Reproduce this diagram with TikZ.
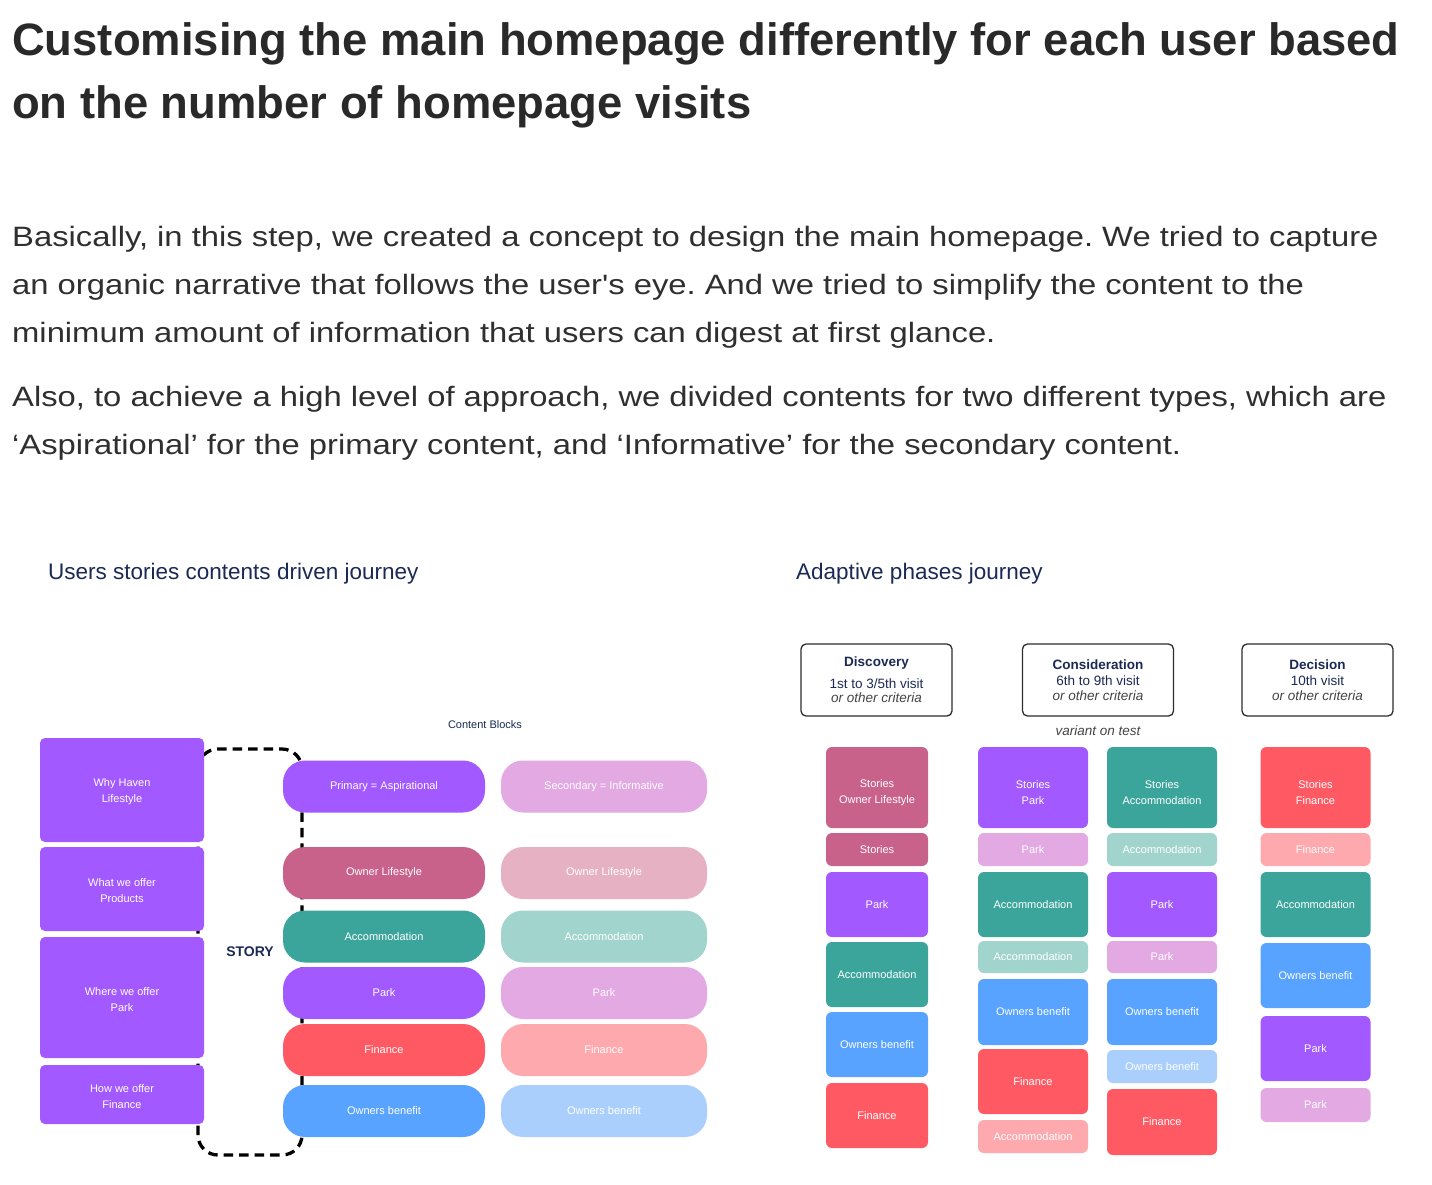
\documentclass[tikz,border=0pt]{standalone}
\usepackage{fontspec}
\setmainfont{Liberation Sans}
\newfontfamily\bodyfont[FakeStretch=1.17]{Liberation Sans}
\usetikzlibrary{positioning}
\frenchspacing

\definecolor{titlegrey}{HTML}{292929}
\definecolor{bodygrey}{HTML}{2F2F2F}
\definecolor{navy}{HTML}{1B2A55}
\definecolor{hdrline}{HTML}{2E2E2E}
\definecolor{critgrey}{HTML}{444444}
\definecolor{cPurple}{HTML}{A259FF}
\definecolor{cRose}{HTML}{C9628A}
\definecolor{cTeal}{HTML}{3BA59C}
\definecolor{cRed}{HTML}{FF5A64}
\definecolor{cBlue}{HTML}{58A3FF}
\definecolor{lPurple}{HTML}{E2A9E3}
\definecolor{lRose}{HTML}{E7B1C4}
\definecolor{lTeal}{HTML}{A2D4CE}
\definecolor{lRed}{HTML}{FDA9AD}
\definecolor{lBlue}{HTML}{ABCFFC}

\newcommand\blockfont{\fontsize{11}{16}\selectfont}

\tikzset{
  title/.style={anchor=base west, inner sep=0pt, text=titlegrey, font=\fontsize{45.4}{54}\selectfont\bfseries},
  bodytext/.style={anchor=base west, inner sep=0pt, text=bodygrey, font=\bodyfont\fontsize{28}{48}\selectfont},
  section/.style={anchor=base west, inner sep=0pt, text=navy, font=\fontsize{22.5}{26}\selectfont},
  leftbox/.style={fill=cPurple, rounded corners=5, minimum width=164, inner sep=0pt, align=center, text=white, font=\blockfont, text height=28pt},
  pill/.style={fill=#1, rounded corners=22, minimum width=202, minimum height=52, inner sep=0pt, text=white, font=\blockfont},
  blk/.style={fill=#1, rounded corners=6, minimum width=110, inner sep=0pt, align=center, text=white, font=\blockfont},
  twoline/.style={text height=34pt},
  hdr/.style={draw=hdrline, line width=1.3pt, rounded corners=5, fill=white, minimum width=151, minimum height=72, inner sep=0pt, align=center, text=navy, font=\fontsize{13.5}{14.5}\selectfont},
  storyline/.style={draw=black, line width=3.3pt, dash pattern=on 9.5pt off 6pt, rounded corners=20}
}

\begin{document}
\begin{tikzpicture}[x=1pt, y=-1pt]

            \fill[white] (0,0) rectangle (1432,1184);
            \useasboundingbox (0,0) rectangle (1432,1184);

            % Vẽ tiêu đề
            \node[title] (title1) at (12,55) {Customising the main homepage differently for each user based};
            \node[title] (title2) at (12,118) {on the number of homepage visits};

            % Vẽ đoạn văn
            \node[bodytext] (line1) at (12,246) {Basically, in this step, we created a concept to design the main homepage. We tried to capture};
            \node[bodytext] (line2) at (12,294) {an organic narrative that follows the user's eye. And we tried to simplify the content to the};
            \node[bodytext] (line3) at (12,342) {minimum amount of information that users can digest at first glance.};
            \node[bodytext] (line4) at (12,406) {Also, to achieve a high level of approach, we divided contents for two different types, which are};
            \node[bodytext] (line5) at (12,454) {‘Aspirational’ for the primary content, and ‘Informative’ for the secondary content.};

            % Tiêu đề hai sơ đồ
            \node[section] (usertitle) at (48,579) {Users stories contents driven journey};
            \node[section] (phasetitle) at (796,579) {Adaptive phases journey};

            % Sơ đồ trái: vòng STORY
            \draw[storyline] (198,749) rectangle (302,1155);
            \node[text=navy, font=\fontsize{14}{16}\selectfont\bfseries] (story) at (250,952) {STORY};

            % Các khối bên trái
            \node[leftbox, minimum height=104] (why) at (122,790) {Why Haven\\Lifestyle};
            \node[leftbox, minimum height=84] (what) at (122,889) {What we offer\\Products};
            \node[leftbox, minimum height=121] (where) at (122,997.5) {Where we offer\\Park};
            \node[leftbox, minimum height=59] (how) at (122,1094.5) {How we offer\\Finance};

            % Content Blocks
            \node[text=navy, font=\fontsize{11}{13}\selectfont] (content) at (485,725) {Content Blocks};
            \node[pill=cPurple] (prim) at (384,786.5) {Primary = Aspirational};
            \node[pill=cRose] (ownerA) at (384,873) {Owner Lifestyle};
            \node[pill=cTeal] (accA) at (384,936.5) {Accommodation};
            \node[pill=cPurple] (parkA) at (384,993) {Park};
            \node[pill=cRed] (finA) at (384,1050) {Finance};
            \node[pill=cBlue] (benA) at (384,1111) {Owners benefit};

            \node[pill=lPurple, minimum width=206] (second) at (604,786.5) {Secondary = Informative};
            \node[pill=lRose, minimum width=206] (ownerB) at (604,873) {Owner Lifestyle};
            \node[pill=lTeal, minimum width=206] (accB) at (604,936.5) {Accommodation};
            \node[pill=lPurple, minimum width=206] (parkB) at (604,993) {Park};
            \node[pill=lRed, minimum width=206] (finB) at (604,1050) {Finance};
            \node[pill=lBlue, minimum width=206] (benB) at (604,1111) {Owners benefit};

            % Sơ đồ phải: các giai đoạn
            \node[hdr] (disc) at (876.5,680) {{\bfseries Discovery}\\[7pt]1st to 3/5th visit\\{\color{critgrey}\itshape or other criteria}};
            \node[hdr] (cons) at (1098,680) {{\bfseries Consideration}\\[2pt]6th to 9th visit\\{\color{critgrey}\itshape or other criteria}};
            \node[hdr] (deci) at (1317.5,680) {{\bfseries Decision}\\[2pt]10th visit\\{\color{critgrey}\itshape or other criteria}};
            \node[below=9pt of cons, inner sep=0pt, text=critgrey, font=\fontsize{13.5}{15}\selectfont\itshape] (variant) {variant on test};

            % Cột Discovery
            \node[blk=cRose, twoline, minimum width=102, minimum height=81] (a1) at (877,787.5) {Stories\\Owner Lifestyle};
            \node[blk=cRose, minimum width=102, minimum height=33] (a2) at (877,849.5) {Stories};
            \node[blk=cPurple, minimum width=102, minimum height=65] (a3) at (877,904.5) {Park};
            \node[blk=cTeal, minimum width=102, minimum height=65] (a4) at (877,974.5) {Accommodation};
            \node[blk=cBlue, minimum width=102, minimum height=65] (a5) at (877,1044.5) {Owners benefit};
            \node[blk=cRed, minimum width=102, minimum height=65] (a6) at (877,1115.5) {Finance};

            % Cột Consideration
            \node[blk=cPurple, twoline, minimum height=81] (b1) at (1033,787.5) {Stories\\Park};
            \node[blk=lPurple, minimum height=33] (b2) at (1033,849.5) {Park};
            \node[blk=cTeal, minimum height=65] (b3) at (1033,904.5) {Accommodation};
            \node[blk=lTeal, minimum height=32] (b4) at (1033,957) {Accommodation};
            \node[blk=cBlue, minimum height=66] (b5) at (1033,1012) {Owners benefit};
            \node[blk=cRed, minimum height=65] (b6) at (1033,1081.5) {Finance};
            \node[blk=lRed, minimum height=33] (b7) at (1033,1136.5) {Accommodation};

            \node[blk=cTeal, twoline, minimum height=81] (c1) at (1162,787.5) {Stories\\Accommodation};
            \node[blk=lTeal, minimum height=33] (c2) at (1162,849.5) {Accommodation};
            \node[blk=cPurple, minimum height=65] (c3) at (1162,904.5) {Park};
            \node[blk=lPurple, minimum height=32] (c4) at (1162,957) {Park};
            \node[blk=cBlue, minimum height=66] (c5) at (1162,1012) {Owners benefit};
            \node[blk=lBlue, minimum height=33] (c6) at (1162,1066.5) {Owners benefit};
            \node[blk=cRed, minimum height=66] (c7) at (1162,1122) {Finance};

            % Cột Decision
            \node[blk=cRed, twoline, minimum height=81] (d1) at (1315.5,787.5) {Stories\\Finance};
            \node[blk=lRed, minimum height=33] (d2) at (1315.5,849.5) {Finance};
            \node[blk=cTeal, minimum height=65] (d3) at (1315.5,904.5) {Accommodation};
            \node[blk=cBlue, minimum height=65] (d4) at (1315.5,975.5) {Owners benefit};
            \node[blk=cPurple, minimum height=65] (d5) at (1315.5,1048.5) {Park};
            \node[blk=lPurple, minimum height=34] (d6) at (1315.5,1105) {Park};

\end{tikzpicture}
\end{document}
